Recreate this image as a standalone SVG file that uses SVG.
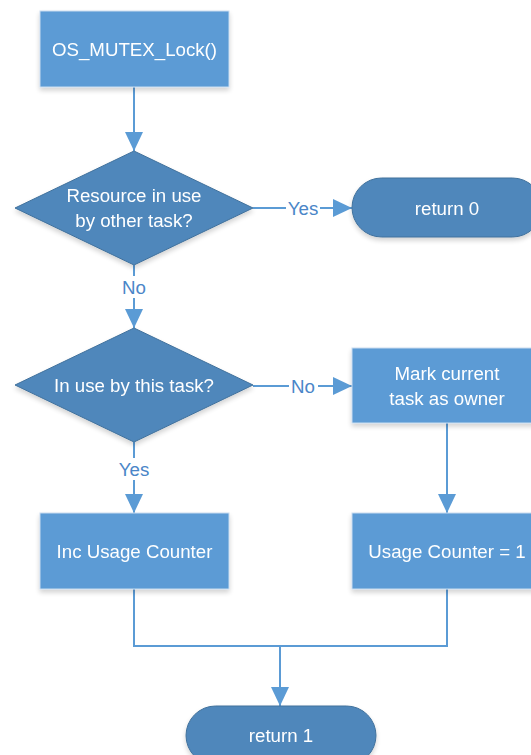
<svg xmlns="http://www.w3.org/2000/svg" width="531" height="755" viewBox="0 0 531 755">
<style>
.proc{fill:#5b9bd5;stroke:#c9dcef;stroke-width:1}
.dec{fill:#4f87bb;stroke:#41719c;stroke-width:1}
.t{font-family:"Liberation Sans",Arial,sans-serif;font-size:18.7px;fill:#ffffff;text-anchor:middle;dominant-baseline:central}
.lbl{font-family:"Liberation Sans",Arial,sans-serif;font-size:18.7px;fill:#4a86c8;text-anchor:middle;dominant-baseline:central}
.c{fill:none;stroke:#5b9bd5;stroke-width:2}
.lb{fill:#ffffff;stroke:none}
</style>
<defs>
<marker id="ah2" viewBox="0 0 19 18" refX="19" refY="9" markerWidth="19" markerHeight="18" markerUnits="userSpaceOnUse" orient="auto">
<path d="M0,0 L19,9 L0,18 z" fill="#5b9bd5"/>
</marker>
<filter id="sh" x="-10%" y="-10%" width="130%" height="140%">
<feGaussianBlur in="SourceAlpha" stdDeviation="2.5"/>
<feOffset dx="0" dy="3" result="b"/>
<feComponentTransfer><feFuncA type="linear" slope="0.18"/></feComponentTransfer>
<feMerge><feMergeNode/><feMergeNode in="SourceGraphic"/></feMerge>
</filter>
</defs>
<g id="connectors">
<path class="c" d="M134,87 V151" marker-end="url(#ah2)"/>
<path class="c" d="M253,208 H352" marker-end="url(#ah2)"/>
<path class="c" d="M134,265 V328" marker-end="url(#ah2)"/>
<path class="c" d="M253,386 H352" marker-end="url(#ah2)"/>
<path class="c" d="M134,442 V513" marker-end="url(#ah2)"/>
<path class="c" d="M447,423 V513" marker-end="url(#ah2)"/>
<path class="c" d="M134,589 V646 H447 V589"/>
<path class="c" d="M280,646 V706" marker-end="url(#ah2)"/>
<rect class="lb" x="286" y="197" width="34" height="22"/>
<text class="lbl" x="303" y="208">Yes</text>
<rect class="lb" x="289" y="375" width="29" height="22"/>
<text class="lbl" x="303" y="386">No</text>
<rect class="lb" x="119" y="276" width="30" height="22"/>
<text class="lbl" x="134" y="287">No</text>
<rect class="lb" x="117" y="458" width="34" height="22"/>
<text class="lbl" x="134" y="469">Yes</text>
</g>
<g id="n1" filter="url(#sh)">
<rect class="proc" x="40" y="11" width="189" height="76"/>
<text class="t" x="134.5" y="49">OS_MUTEX_Lock()</text>
</g>
<g id="d1" filter="url(#sh)">
<polygon class="dec" points="134,151 253,208 134,265 15,208"/>
<text class="t" x="134" y="195">Resource in use</text>
<text class="t" x="134" y="220">by other task?</text>
</g>
<g id="r0" filter="url(#sh)">
<rect class="dec" x="352" y="178" width="190" height="59" rx="29.5" ry="29.5"/>
<text class="t" x="447" y="208">return 0</text>
</g>
<g id="d2" filter="url(#sh)">
<polygon class="dec" points="134,328 253,385 134,442 15,385"/>
<text class="t" x="134" y="385">In use by this task?</text>
</g>
<g id="n2" filter="url(#sh)">
<rect class="proc" x="352" y="348" width="190" height="75"/>
<text class="t" x="447" y="373">Mark current</text>
<text class="t" x="447" y="398">task as owner</text>
</g>
<g id="n3" filter="url(#sh)">
<rect class="proc" x="40" y="513" width="189" height="76"/>
<text class="t" x="134.5" y="551">Inc Usage Counter</text>
</g>
<g id="n4" filter="url(#sh)">
<rect class="proc" x="352" y="513" width="190" height="76"/>
<text class="t" x="447" y="551">Usage Counter = 1</text>
</g>
<g id="r1" filter="url(#sh)">
<rect class="dec" x="186" y="706" width="190" height="59" rx="29.5" ry="29.5"/>
<text class="t" x="281" y="735">return 1</text>
</g>
</svg>
